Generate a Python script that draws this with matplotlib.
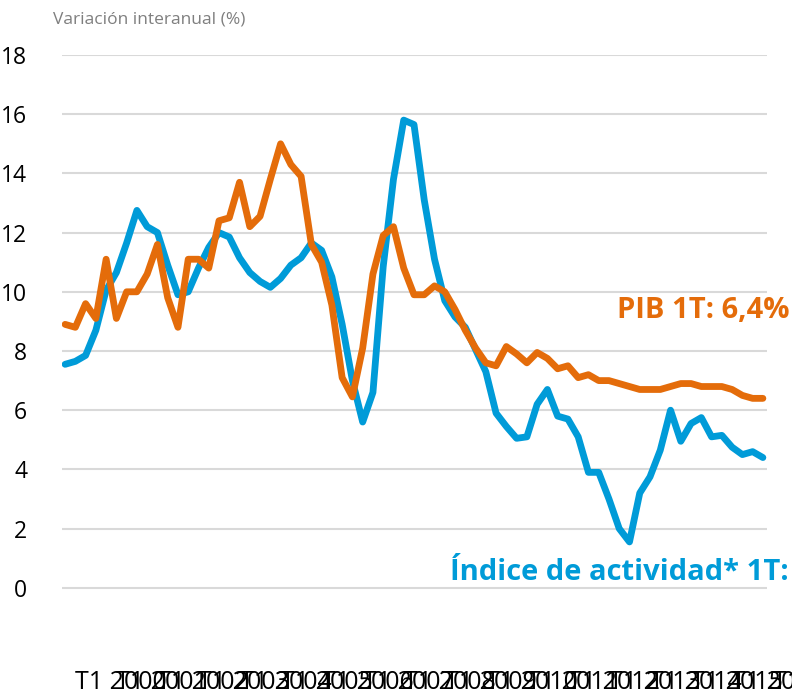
import numpy as np
import matplotlib
matplotlib.use("Agg")
import matplotlib.pyplot as plt
import matplotlib.transforms as mtransforms

plt.rcParams['font.family'] = ['Open Sans', 'DejaVu Sans']

# Quarterly data, T1 2000 .. T1 2017
years = list(range(2000, 2018))
year_labels = [f"T1 {y}" for y in years]

pib = [8.9, 8.8, 9.6, 9.1, 11.1, 9.1, 10.0, 10.0, 10.6, 11.6,
       9.8, 8.8, 11.1, 11.1, 10.8, 12.4, 12.5, 13.7, 12.2, 12.55,
       13.8, 15.0, 14.3, 13.9, 11.6, 11.0, 9.55, 7.1, 6.45, 8.1,
       10.6, 11.9, 12.2, 10.8, 9.9, 9.9, 10.2, 10.0, 9.4, 8.7,
       8.1, 7.6, 7.5, 8.15, 7.9, 7.6, 7.95, 7.75, 7.4, 7.5,
       7.1, 7.2, 7.0, 7.0, 6.9, 6.8, 6.7, 6.7, 6.7, 6.8,
       6.9, 6.9, 6.8, 6.8, 6.8, 6.7, 6.5, 6.4, 6.4]

actividad = [7.55, 7.65, 7.85, 8.7, 10.05, 10.65, 11.65, 12.75, 12.2, 12.0,
             10.9, 9.9, 10.0, 10.8, 11.5, 12.0, 11.85, 11.15, 10.65, 10.35,
             10.15, 10.45, 10.9, 11.15, 11.65, 11.4, 10.5, 8.9, 7.0, 5.6,
             6.6, 10.85, 13.8, 15.8, 15.65, 13.1, 11.1, 9.7, 9.15, 8.8,
             8.05, 7.3, 5.9, 5.45, 5.05, 5.1, 6.2, 6.7, 5.8, 5.7,
             5.1, 3.9, 3.9, 3.0, 2.0, 1.55, 3.2, 3.75, 4.65, 6.0,
             4.95, 5.55, 5.75, 5.1, 5.15, 4.75, 4.5, 4.6, 4.4]

blue = '#009bd8'
orange = '#e46c0a'

fig = plt.figure(figsize=(7.92, 6.93), dpi=100)
ax = fig.add_axes([62 / 792, 1 - 647 / 693, 705 / 792, 592 / 693])

x = np.arange(len(pib))
ax.plot(x, actividad, color=blue, lw=4.9, solid_joinstyle='round', solid_capstyle='round', zorder=3)
ax.plot(x, pib, color=orange, lw=4.9, solid_joinstyle='round', solid_capstyle='round', zorder=4)

ax.set_xlim(-0.3, 68.4)
ax.set_ylim(-2, 18)
ax.set_yticks(np.arange(0, 19, 2))
ax.tick_params(axis='y', length=0, pad=25, labelsize=16.5)
ax.set_xticks([])
for s in ax.spines.values():
    s.set_visible(False)
ax.grid(axis='y', color='#d9d9d9', lw=1.5, zorder=0)

# overlapping year labels, as in the original
trans = mtransforms.blended_transform_factory(ax.transData, fig.transFigure)
for k, lab in enumerate(year_labels):
    ax.text(4 * k + 1, 1 - 670 / 693, lab, transform=trans, ha='left', va='top',
            fontsize=18, color='black', clip_on=False)

fig.text(53 / 792, 1 - 20 / 693, 'Variación interanual (%)', fontsize=12.5,
         color='#7f7f7f', ha='left', va='center')

ax.text(617 / 792, 1 - 311 / 693, 'PIB 1T: 6,4%', transform=fig.transFigure,
        fontsize=21, fontweight='bold', color=orange, ha='left', va='center')
ax.text(450 / 792, 1 - 571 / 693, 'Índice de actividad* 1T: 4,4%', transform=fig.transFigure,
        fontsize=21, fontweight='bold', color=blue, ha='left', va='center')

fig.savefig('out.png', dpi=100)
